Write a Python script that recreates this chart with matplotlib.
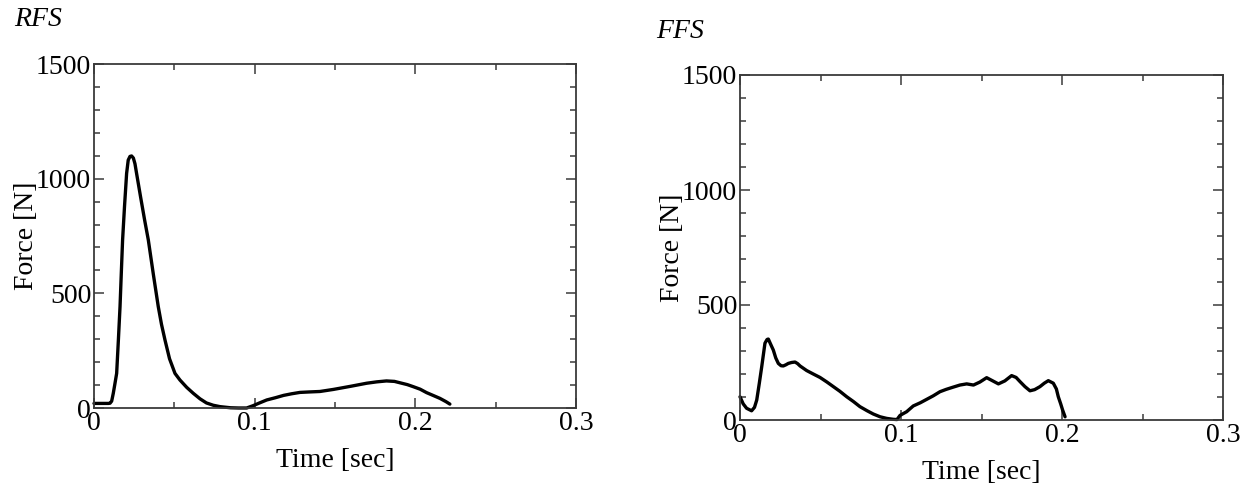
import matplotlib
matplotlib.use("Agg")
import matplotlib.pyplot as plt
from matplotlib.ticker import MultipleLocator

# ---- data ----
rfs_time = [0.000, 0.009, 0.010, 0.011, 0.012, 0.013, 0.0141, 0.0152, 0.0162,
            0.0170, 0.0178, 0.0190, 0.0203, 0.0213, 0.0224, 0.0234, 0.0245, 0.0255,
            0.0265, 0.0290, 0.0315, 0.0338, 0.0370, 0.0400, 0.0420, 0.0442, 0.0470,
            0.0504, 0.0535, 0.0577, 0.0618, 0.0660, 0.0700, 0.0742, 0.0784, 0.0850,
            0.0900, 0.0950, 0.0990, 0.1030, 0.1075, 0.1130, 0.1180, 0.1230, 0.1282,
            0.1340, 0.1406, 0.1490, 0.1600, 0.1697, 0.1760, 0.1820, 0.1870, 0.1904,
            0.1950, 0.1987, 0.2030, 0.2070, 0.2110, 0.2153, 0.2190, 0.2215]
rfs_force = [20, 20, 21, 30, 64, 105, 151, 300, 442,
             590, 733, 880, 1023, 1081, 1097, 1099, 1090, 1065,
             1023, 920, 820, 733, 580, 442, 365, 296, 215,
             151, 122, 90, 64, 40, 22, 12, 6, 1,
             0, 0, 10, 22, 35, 45, 55, 62, 68,
             70, 72, 81, 95, 108, 114, 118, 116, 110,
             102, 93, 82, 67, 55, 42, 28, 17]

ffs_time = [0.000, 0.0020, 0.0041, 0.0072, 0.0090, 0.0104, 0.0120, 0.0135, 0.0155,
            0.0168, 0.0176, 0.0190, 0.0207, 0.0222, 0.0238, 0.0255, 0.0269, 0.0285,
            0.0300, 0.0320, 0.0342, 0.0358, 0.0373, 0.0414, 0.0455, 0.0497, 0.0540,
            0.0580, 0.0620, 0.0663, 0.0705, 0.0745, 0.0790, 0.0828, 0.0870, 0.0911,
            0.0952, 0.0975, 0.0994, 0.1035, 0.1076, 0.1120, 0.1160, 0.1200, 0.1242,
            0.1280, 0.1320, 0.1366, 0.1408, 0.1450, 0.1490, 0.1532, 0.1570, 0.1605,
            0.1645, 0.1687, 0.1715, 0.1739, 0.1770, 0.1801, 0.1830, 0.1863, 0.1890,
            0.1915, 0.1946, 0.1965, 0.1977, 0.1992, 0.2004, 0.2019]
ffs_force = [101, 70, 51, 40, 55, 87, 160, 232, 334,
             350, 352, 330, 304, 270, 246, 236, 235, 240,
             246, 250, 252, 245, 235, 215, 200, 185, 165,
             145, 125, 101, 80, 58, 40, 26, 14, 7,
             3, 2, 20, 36, 61, 75, 90, 105, 123,
             133, 142, 152, 157, 152, 165, 184, 170, 157,
             170, 193, 185, 167, 145, 127, 132, 145, 160,
             171, 160, 135, 101, 70, 43, 14]

x_ticks = [0, 0.1, 0.2, 0.3]
x_ticklabels = ["0", "0.1", "0.2", "0.3"]
y_ticks = [0, 500, 1000, 1500]
y_ticklabels = ["0", "500", "1000", "1500"]

panel_titles = ["RFS", "FFS"]
xlabel = "Time [sec]"
ylabel = "Force [N]"

# ---- figure ----
plt.rcParams["font.family"] = ["Liberation Serif", "DejaVu Serif"]
FS = 20
W, H = 1248, 488
fig = plt.figure(figsize=(W / 100, H / 100), dpi=100)

# axes boxes in pixels: (left, top, right, bottom)
boxes = [(94, 64, 576, 408), (740, 75, 1223, 420)]
title_pos = [(14, 20), (656, 31)]
series = [(rfs_time, rfs_force), (ffs_time, ffs_force)]
spine_col = "#3a3a3a"

for i, (box, (t, f)) in enumerate(zip(boxes, series)):
    l, tp, r, b = box
    ax = fig.add_axes([l / W, 1 - b / H, (r - l) / W, (b - tp) / H])
    ax.plot(t, f, color="black", lw=2.4, solid_joinstyle="round",
            solid_capstyle="round", clip_on=False)
    ax.set_xlim(0, 0.3)
    ax.set_ylim(0, 1500)
    ax.set_xticks(x_ticks)
    ax.set_xticklabels(x_ticklabels, fontsize=FS)
    ax.set_yticks(y_ticks)
    ax.set_yticklabels(y_ticklabels, fontsize=FS)
    ax.xaxis.set_minor_locator(MultipleLocator(0.05))
    ax.yaxis.set_minor_locator(MultipleLocator(100))
    ax.tick_params(which="both", direction="in", top=True, right=True,
                   color=spine_col, width=1.1)
    ax.tick_params(which="major", length=7)
    ax.tick_params(which="minor", length=4.5)
    ax.tick_params(axis="x", which="major", pad=2)
    ax.tick_params(axis="y", which="major", pad=2)
    for s in ax.spines.values():
        s.set_color(spine_col)
        s.set_linewidth(1.3)
    ax.set_xlabel(xlabel, fontsize=FS, labelpad=9)
    ax.set_ylabel(ylabel, fontsize=FS, labelpad=-2)
    tx, ty = title_pos[i]
    fig.text(tx / W, 1 - ty / H, panel_titles[i], fontsize=FS, style="italic",
             ha="left", va="center")

fig.savefig("out.png", dpi=100, facecolor="white")
